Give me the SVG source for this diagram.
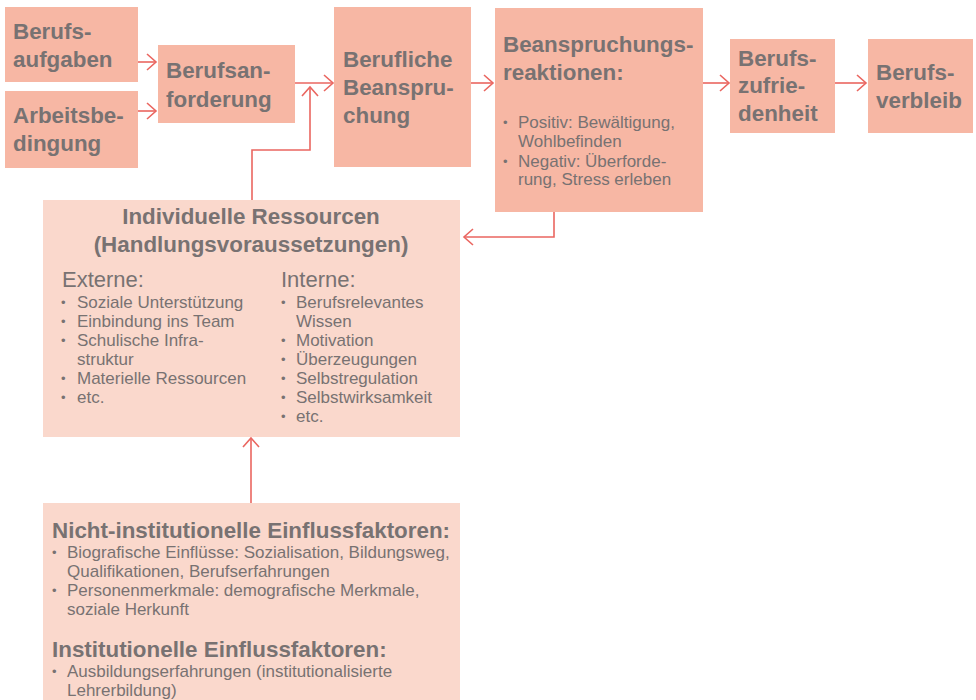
<svg xmlns="http://www.w3.org/2000/svg" width="976" height="700" viewBox="0 0 976 700">
<style>
.main{fill:#F7B7A4}
.light{fill:#FAD8CC}
.t{font-family:"Liberation Sans",Arial,sans-serif;fill:#787272}
.b{font-weight:bold;font-size:22.4px}
.s{font-size:17px}
.d{font-size:13px}
.h{font-size:22px}
.c{fill:none;stroke:#EA6660;stroke-width:1.6}
</style>
<defs>
<marker id="ah" markerUnits="userSpaceOnUse" markerWidth="12" markerHeight="18" refX="10" refY="8" orient="auto" viewBox="0 0 12 16">
<path d="M1,0 L10,8 L1,16" fill="none" stroke="#EA6660" stroke-width="1.6"/>
</marker>
</defs>
<g id="connectors">
<path class="c" d="M138,62 H156" marker-end="url(#ah)"/>
<path class="c" d="M138,111 H156" marker-end="url(#ah)"/>
<path class="c" d="M295,83 H333" marker-end="url(#ah)"/>
<path class="c" d="M252,200 V150 H310 V87" marker-end="url(#ah)"/>
<path class="c" d="M471,83 H493" marker-end="url(#ah)"/>
<path class="c" d="M703,83 H729" marker-end="url(#ah)"/>
<path class="c" d="M835,83 H866" marker-end="url(#ah)"/>
<path class="c" d="M554,212 V237 H464" marker-end="url(#ah)"/>
<path class="c" d="M251,503 V438" marker-end="url(#ah)"/>
</g>
<g id="berufsaufgaben">
<rect class="main" x="5" y="7" width="133" height="75"/>
<text class="t b" x="13" y="39">Berufs-</text>
<text class="t b" x="13" y="67">aufgaben</text>
</g>
<g id="arbeitsbedingung">
<rect class="main" x="5" y="91" width="133" height="77"/>
<text class="t b" x="13" y="123">Arbeitsbe-</text>
<text class="t b" x="13" y="151">dingung</text>
</g>
<g id="berufsanforderung">
<rect class="main" x="158" y="45" width="137" height="78"/>
<text class="t b" x="166" y="78">Berufsan-</text>
<text class="t b" x="166" y="107">forderung</text>
</g>
<g id="beanspruchung">
<rect class="main" x="334" y="7" width="137" height="160"/>
<text class="t b" x="343" y="67">Berufliche</text>
<text class="t b" x="343" y="95">Beanspru-</text>
<text class="t b" x="343" y="123">chung</text>
</g>
<g id="reaktionen">
<rect class="main" x="495" y="8" width="208" height="204"/>
<text class="t b" x="503" y="52">Beanspruchungs-</text>
<text class="t b" x="503" y="80">reaktionen:</text>
<text class="t d" x="503" y="127">•</text>
<text class="t s" x="518" y="128">Positiv: Bewältigung,</text>
<text class="t s" x="518" y="147">Wohlbefinden</text>
<text class="t d" x="503" y="166">•</text>
<text class="t s" x="518" y="167">Negativ: Überforde-</text>
<text class="t s" x="518" y="185">rung, Stress erleben</text>
</g>
<g id="zufriedenheit">
<rect class="main" x="730" y="39" width="105" height="94"/>
<text class="t b" x="738" y="66">Berufs-</text>
<text class="t b" x="738" y="93">zufrie-</text>
<text class="t b" x="738" y="121">denheit</text>
</g>
<g id="verbleib">
<rect class="main" x="868" y="39" width="105" height="94"/>
<text class="t b" x="876" y="80">Berufs-</text>
<text class="t b" x="876" y="108">verbleib</text>
</g>
<g id="ressourcen">
<rect class="light" x="43" y="200" width="417" height="237"/>
<text class="t b" x="251" y="224" text-anchor="middle">Individuelle Ressourcen</text>
<text class="t b" x="251" y="252" text-anchor="middle">(Handlungsvoraussetzungen)</text>
<text class="t h" x="62" y="287">Externe:</text>
<text class="t d" x="61" y="307">•</text><text class="t s" x="77" y="308">Soziale Unterstützung</text>
<text class="t d" x="61" y="326">•</text><text class="t s" x="77" y="327">Einbindung ins Team</text>
<text class="t d" x="61" y="345">•</text><text class="t s" x="77" y="346">Schulische Infra-</text>
<text class="t s" x="77" y="365">struktur</text>
<text class="t d" x="61" y="383">•</text><text class="t s" x="77" y="384">Materielle Ressourcen</text>
<text class="t d" x="61" y="402">•</text><text class="t s" x="77" y="403">etc.</text>
<text class="t h" x="281" y="287">Interne:</text>
<text class="t d" x="281" y="307">•</text><text class="t s" x="296" y="308">Berufsrelevantes</text>
<text class="t s" x="296" y="327">Wissen</text>
<text class="t d" x="281" y="345">•</text><text class="t s" x="296" y="346">Motivation</text>
<text class="t d" x="281" y="364">•</text><text class="t s" x="296" y="365">Überzeugungen</text>
<text class="t d" x="281" y="383">•</text><text class="t s" x="296" y="384">Selbstregulation</text>
<text class="t d" x="281" y="402">•</text><text class="t s" x="296" y="403">Selbstwirksamkeit</text>
<text class="t d" x="281" y="421">•</text><text class="t s" x="296" y="422">etc.</text>
</g>
<g id="einflussfaktoren">
<rect class="light" x="43" y="503" width="417" height="197"/>
<text class="t b" x="52" y="538">Nicht-institutionelle Einflussfaktoren:</text>
<text class="t d" x="52" y="557">•</text><text class="t s" x="67" y="558">Biografische Einflüsse: Sozialisation, Bildungsweg,</text>
<text class="t s" x="67" y="577">Qualifikationen, Berufserfahrungen</text>
<text class="t d" x="52" y="595">•</text><text class="t s" x="67" y="596">Personenmerkmale: demografische Merkmale,</text>
<text class="t s" x="67" y="615">soziale Herkunft</text>
<text class="t b" x="52" y="657">Institutionelle Einflussfaktoren:</text>
<text class="t d" x="52" y="676">•</text><text class="t s" x="67" y="677">Ausbildungserfahrungen (institutionalisierte</text>
<text class="t s" x="67" y="696">Lehrerbildung)</text>
</g>
</svg>
